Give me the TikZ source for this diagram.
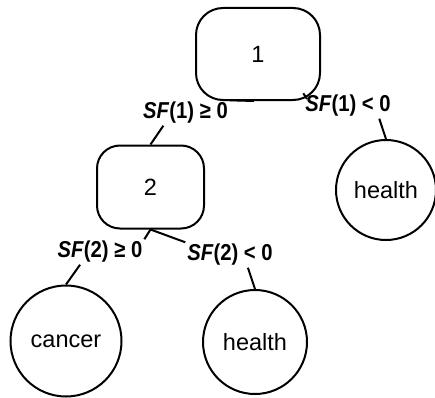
\documentclass[tikz,border=0pt]{standalone}
\usepackage{fontspec}
\setmainfont{Liberation Sans}
\usetikzlibrary{calc}

\newcommand{\condtext}[2]{\scalebox{0.88}[1]{\textit{SF}(#1) #2 0}}

\begin{document}
\begin{tikzpicture}[x=1pt,y=1pt,line width=2pt,
        test/.style={draw, rounded corners=27pt, font=\fontsize{23.5}{26}\selectfont},
        leaf/.style={draw, circle, inner sep=0pt, font=\fontsize{23.5}{26}\selectfont},
        cond/.style={inner sep=1pt, font=\fontsize{23}{26}\selectfont\bfseries}]
        \useasboundingbox (0,0) rectangle (435,397);
        % decision nodes
        \node[test, minimum width=124pt, minimum height=92pt] (b1) at (258,343) {1};
        \node[test, minimum width=107pt, minimum height=83pt, rounded corners=23pt] (b2) at (150.5,210) {2};
        % leaves
        \node[leaf, minimum size=100pt] (hr) at (386,207) {health};
        \node[leaf, minimum size=111pt] (cancer) at (66,56) {cancer};
        \node[leaf, minimum size=104pt] (hb) at (255,55) {health};
        % conditions
        \node[cond] (l1a) at (185.5,284) {\condtext{1}{≥}};
        \node[cond] (l1b) at (348,291) {\condtext{1}{<}};
        \node[cond] (l2a) at (100,145) {\condtext{2}{≥}};
        \node[cond] (l2b) at (230,142) {\condtext{2}{<}};
        % branches
        \draw (l1a.north east) -- ($(b1.south)+(-4,0)$);
        \draw (l1b.north west) -- ($(b1.south east)+(-14,2)$);
        \draw ($(l1a.south)!0.5!(l1a.south west)$) -- (b2.north);
        \draw ($(l1b.south)!0.7!(l1b.south east)$) -- (hr.north);
        \draw (l2a.north east) -- (b2.south) -- (l2b.north west);
        \draw ($(l2a.south)!0.45!(l2a.south west)$) -- (cancer.north);
        \draw ($(l2b.south)!0.4!(l2b.south east)$) -- (hb.north);
\end{tikzpicture}
\end{document}
